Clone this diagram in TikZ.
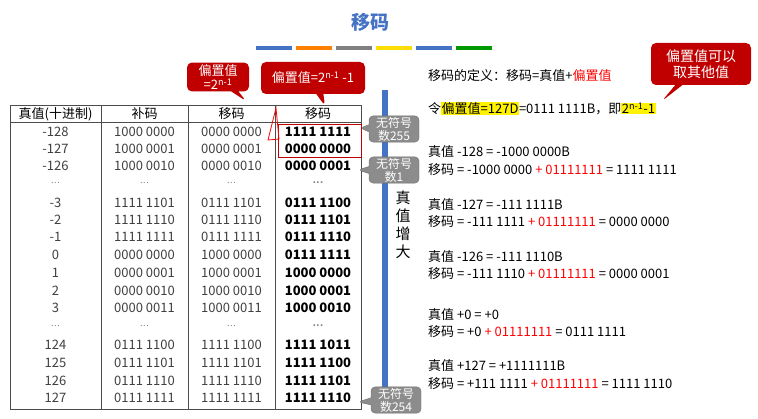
\documentclass[tikz,border=0pt]{standalone}
\usepackage{fontspec}
\setmainfont{Noto Sans CJK SC}
\usetikzlibrary{shapes.callouts}
\definecolor{dred}{RGB}{192,0,0}
\definecolor{cgray}{RGB}{140,140,140}
\definecolor{bbar}{RGB}{68,114,196}
\setlength{\fboxsep}{0.5pt}
\newcommand{\dd}{{\fontsize{9}{10}\selectfont\textcolor{black!50}{.\kern0.5pt.\kern0.5pt.}}}
\begin{document}
\begin{tikzpicture}[x=1pt,y=-1pt,
  cell/.style={font=\fontsize{13}{14}\selectfont,inner sep=0pt,text=black!75},
  bcell/.style={font=\fontsize{13}{14}\selectfont\bfseries,inner sep=0pt},
  rtxt/.style={anchor=west,font=\fontsize{13}{15}\selectfont,inner sep=0pt},
  gcall/.style={rectangle callout,rounded corners=4pt,fill=cgray,draw=cgray!80!black,text=white,font=\fontsize{12}{13}\selectfont,align=center,inner sep=1pt,minimum width=50pt},
  rcall/.style={rectangle callout,rounded corners=5pt,fill=dred,text=white,font=\fontsize{13}{14}\selectfont,align=center,inner sep=2pt}]
\useasboundingbox (0,0) rectangle (758,419);
\fill[white] (0,0) rectangle (758,419);
\node[font=\fontsize{19}{21}\selectfont\bfseries,text=bbar] (title) at (370,22) {移码};
\foreach \c [count=\i] in {bbar,orange,gray,yellow!80!orange,bbar,green!60!black}
  \fill[\c] ({256+40*(\i-1)},46) rectangle ++(36,4);
% table
\draw[thick,black!70] (10,105) rectangle (361,409);
\draw[black!70] (10,122) -- (361,122);
\foreach \x in {101,188,275} \draw[black!70] (\x,105) -- (\x,409);
\node[cell,text=black] (h1) at (55.5,114) {真值(十进制)};
\node[cell,text=black] (h2) at (144.5,114) {补码};
\node[cell,text=black] (h3) at (231.5,114) {移码};
\node[cell,text=black] (h4) at (318,114) {移码};
\foreach \y/\a/\b/\c/\d in {
 132/-128/1000 0000/0000 0000/1111 1111,
 149/-127/1000 0001/0000 0001/0000 0000,
 166/-126/1000 0010/0000 0010/0000 0001,
 183/\dd/\dd/\dd/\dd,
 203/-3/1111 1101/0111 1101/0111 1100,
 220/-2/1111 1110/0111 1110/0111 1101,
 237/-1/1111 1111/0111 1111/0111 1110,
 255/0/0000 0000/1000 0000/0111 1111,
 273/1/0000 0001/1000 0001/1000 0000,
 291/2/0000 0010/1000 0010/1000 0001,
 308/3/0000 0011/1000 0011/1000 0010,
 326/\dd/\dd/\dd/\dd,
 345/124/0111 1100/1111 1100/1111 1011,
 363/125/0111 1101/1111 1101/1111 1100,
 381/126/0111 1110/1111 1110/1111 1101,
 398/127/0111 1111/1111 1111/1111 1110}{
 \node[cell] at (55.5,\y) {\a};
 \node[cell] at (144.5,\y) {\b};
 \node[cell] at (231.5,\y) {\c};
 \node[bcell] at (318,\y) {\d};
}
\draw[dred,thick] (278,124) rectangle (361,157);
\draw[red,thick] (276,108) -- (268,140) -- (279,139) -- cycle;
% bar
\fill[bbar] (382,90) rectangle (388,406);
\node[font=\fontsize{15}{18}\selectfont,align=center,inner sep=0pt] (inc) at (403,225) {真\\值\\增\\大};
% callouts
\coordinate (p1) at (360,128);
\coordinate (p2) at (358,170);
\coordinate (p3) at (358,402);
\node[gcall,callout absolute pointer={(p1)}] (c1) at (394,129) {无符号\\数255};
\node[gcall,callout absolute pointer={(p2)}] (c2) at (394,170) {无符号\\数1};
\node[gcall,callout absolute pointer={(p3)}] (c3) at (396,400) {无符号\\数254};
\coordinate (q1) at (246,101);
\coordinate (q2) at (325,106);
\coordinate (q3) at (662,101);
\node[rcall,callout absolute pointer={(q1)},minimum width=62pt] (r1) at (218,77) {偏置值\\=2\textsuperscript{n-1}};
\node[rcall,callout absolute pointer={(q2)},minimum width=104pt,minimum height=32pt] (r2) at (313,78) {偏置值=2\textsuperscript{n-1} -1};
\node[rcall,callout absolute pointer={(q3)},minimum width=100pt,minimum height=42pt,font=\fontsize{14}{16}\selectfont] (r3) at (701,64) {偏置值可以\\取其他值};
% right text
\node[rtxt] (t1) at (428,76) {移码的定义：移码=真值+\textcolor{red}{偏置值}};
\node[rtxt] (t2) at (428,109) {令\colorbox{yellow}{偏置值=127D}=0111 1111B，即\colorbox{yellow}{2\textsuperscript{n-1}-1}};
\node[rtxt] at (428,152) {真值 -128 = -1000 0000B};
\node[rtxt] at (428,170) {移码 = -1000 0000 \textcolor{red}{+ 01111111} = 1111 1111};
\node[rtxt] at (428,205) {真值 -127 = -111 1111B};
\node[rtxt] at (428,222) {移码 = -111 1111 \textcolor{red}{+ 01111111} = 0000 0000};
\node[rtxt] at (428,257) {真值 -126 = -111 1110B};
\node[rtxt] at (428,274) {移码 = -111 1110 \textcolor{red}{+ 01111111} = 0000 0001};
\node[rtxt] at (428,315) {真值 +0 = +0};
\node[rtxt] at (428,332) {移码 = +0 \textcolor{red}{+ 01111111} = 0111 1111};
\node[rtxt] at (428,366) {真值 +127 = +1111111B};
\node[rtxt] at (428,384) {移码 = +111 1111 \textcolor{red}{+ 01111111} = 1111 1110};
\end{tikzpicture}
\end{document}
